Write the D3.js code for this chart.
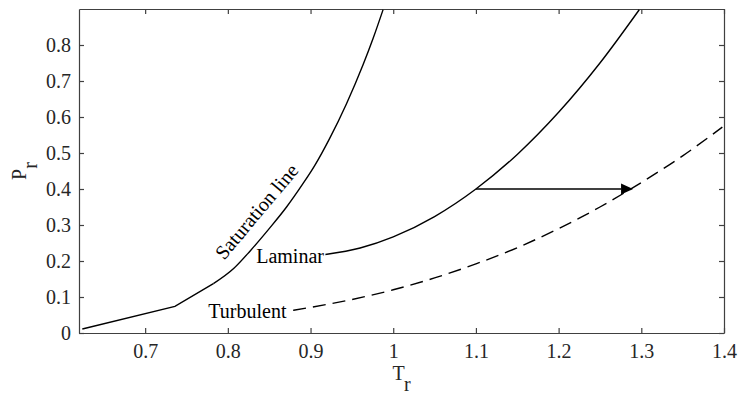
<!DOCTYPE html>
<html>
<head>
<meta charset="utf-8">
<script src="https://cdn.jsdelivr.net/npm/d3@7"></script>
<style>
  html, body { margin: 0; padding: 0; background: #fff; }
  svg { display: block; }
  text { font-family: "Liberation Serif", "Times New Roman", serif; }
</style>
</head>
<body>
<svg id="chart" width="741" height="396"></svg>
<script>
// ---- data (reduced temperature T_r, reduced pressure P_r) ----
const saturationT = [0.624, 0.736, 0.7825, 0.807, 0.827, 0.850, 0.871, 0.890, 0.905, 0.923, 0.9435, 0.9635, 0.9756, 0.9877];
const saturationP = [0.011, 0.074, 0.137, 0.179, 0.228, 0.290, 0.350, 0.412, 0.465, 0.540, 0.637, 0.745, 0.818, 0.898];

const laminarT = [0.918, 0.96, 1.0, 1.05, 1.1, 1.15, 1.2, 1.25, 1.2975];
const laminarP = [0.218, 0.236, 0.267, 0.3235, 0.400, 0.496, 0.613, 0.750, 0.898];

const turbulentT = [0.879, 0.95, 1.0, 1.05, 1.1, 1.15, 1.2, 1.25, 1.3, 1.35, 1.398];
const turbulentP = [0.063, 0.093, 0.120, 0.153, 0.192, 0.237, 0.290, 0.350, 0.418, 0.492, 0.572];

const arrowT = [1.1, 1.29];
const arrowP = [0.40, 0.40];

const xTicks = [0.7, 0.8, 0.9, 1.0, 1.1, 1.2, 1.3, 1.4];
const xTickLabels = ["0.7", "0.8", "0.9", "1", "1.1", "1.2", "1.3", "1.4"];
const yTicks = [0, 0.1, 0.2, 0.3, 0.4, 0.5, 0.6, 0.7, 0.8];
const yTickLabels = ["0", "0.1", "0.2", "0.3", "0.4", "0.5", "0.6", "0.7", "0.8"];

const annotationText = ["Saturation line", "Laminar", "Turbulent"];
const annotationT = [0.7956, 0.8343, 0.7764];
const annotationP = [0.2008, 0.1936, 0.0428];

// ---- layout ----
const mLeft = 79, mRight = 724, mTop = 9, mBottom = 333;
const x = d3.scaleLinear().domain([0.62, 1.4]).range([mLeft, mRight]);
const y = d3.scaleLinear().domain([0, 0.9]).range([mBottom, mTop]);

const svg = d3.select("#chart");
const axisColor = "#404040";
const labelColor = "#262626";
const fontSize = 20;

// axes (box with inward ticks)
const gx = svg.append("g").attr("transform", `translate(0,${mBottom})`)
  .call(d3.axisBottom(x).tickValues(xTicks).tickFormat((d, i) => xTickLabels[i])
        .tickSizeInner(-5).tickSizeOuter(0).tickPadding(11));
const gxTop = svg.append("g").attr("transform", `translate(0,${mTop})`)
  .call(d3.axisTop(x).tickValues(xTicks).tickFormat("")
        .tickSizeInner(-5).tickSizeOuter(0));
const gy = svg.append("g").attr("transform", `translate(${mLeft},0)`)
  .call(d3.axisLeft(y).tickValues(yTicks).tickFormat((d, i) => yTickLabels[i])
        .tickSizeInner(-5).tickSizeOuter(0).tickPadding(8));
const gyRight = svg.append("g").attr("transform", `translate(${mRight},0)`)
  .call(d3.axisRight(y).tickValues(yTicks).tickFormat("")
        .tickSizeInner(-5).tickSizeOuter(0));

[gx, gxTop, gy, gyRight].forEach(g => {
  g.attr("font-family", '"Liberation Serif", serif');
  g.selectAll(".domain").attr("stroke", axisColor).attr("stroke-width", 1.2);
  g.selectAll(".tick line").attr("stroke", axisColor).attr("stroke-width", 1.2);
  g.selectAll(".tick text")
    .attr("fill", labelColor)
    .style("font-family", '"Liberation Serif", serif')
    .style("font-size", fontSize + "px");
});

// clip
svg.append("defs").append("clipPath").attr("id", "plotclip")
  .append("rect").attr("x", mLeft).attr("y", mTop).attr("width", mRight - mLeft).attr("height", mBottom - mTop);

const plot = svg.append("g").attr("clip-path", "url(#plotclip)");

function pts(T, P) { return T.map((t, i) => [t, P[i]]); }

const lineLin = d3.line().x(d => x(d[0])).y(d => y(d[1])).curve(d3.curveLinear);
const lineSmooth = d3.line().x(d => x(d[0])).y(d => y(d[1])).curve(d3.curveMonotoneX);

const sat = pts(saturationT, saturationP);
plot.append("path").attr("d", lineLin(sat.slice(0, 3)))
  .attr("fill", "none").attr("stroke", "#000").attr("stroke-width", 1.4);
plot.append("path").attr("d", lineSmooth(sat.slice(2)))
  .attr("fill", "none").attr("stroke", "#000").attr("stroke-width", 1.4);

plot.append("path").attr("d", lineSmooth(pts(laminarT, laminarP)))
  .attr("fill", "none").attr("stroke", "#000").attr("stroke-width", 1.4);

plot.append("path").attr("d", lineSmooth(pts(turbulentT, turbulentP)))
  .attr("fill", "none").attr("stroke", "#000").attr("stroke-width", 1.4)
  .attr("stroke-dasharray", "13,7");

// arrow
const headLen = 12, headHalf = 5.5;
const ax0 = x(arrowT[0]), ax1 = x(arrowT[1]), ay = y(arrowP[0]);
plot.append("line")
  .attr("x1", ax0).attr("y1", ay).attr("x2", ax1 - headLen).attr("y2", ay)
  .attr("stroke", "#000").attr("stroke-width", 1.4);
plot.append("path")
  .attr("d", `M${ax1},${ay} L${ax1 - headLen},${ay - headHalf} L${ax1 - headLen},${ay + headHalf} Z`)
  .attr("fill", "#000");

// annotations
svg.append("text")
  .attr("transform", `translate(${x(annotationT[0])},${y(annotationP[0])}) rotate(-50)`)
  .attr("font-size", fontSize).attr("fill", "#000")
  .text(annotationText[0]);
svg.append("text")
  .attr("x", x(annotationT[1])).attr("y", y(annotationP[1]))
  .attr("font-size", fontSize).attr("fill", "#000")
  .text(annotationText[1]);
svg.append("text")
  .attr("x", x(annotationT[2])).attr("y", y(annotationP[2]))
  .attr("font-size", fontSize).attr("fill", "#000")
  .text(annotationText[2]);

// axis titles
const xt = svg.append("text")
  .attr("x", (mLeft + mRight) / 2).attr("y", 380)
  .attr("text-anchor", "middle").attr("font-size", fontSize).attr("fill", labelColor);
xt.append("tspan").text("T");
xt.append("tspan").attr("dy", 10.5).text("r");

const yt = svg.append("text")
  .attr("transform", `translate(26,${(mTop + mBottom) / 2}) rotate(-90)`)
  .attr("text-anchor", "middle").attr("font-size", fontSize).attr("fill", labelColor);
yt.append("tspan").text("P");
yt.append("tspan").attr("dy", 10.5).text("r");
</script>
</body>
</html>
